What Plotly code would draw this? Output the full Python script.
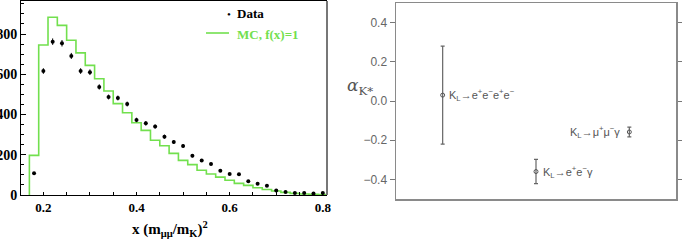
import plotly.graph_objects as go

# ---- Left panel data ----
data_x = [0.18, 0.20, 0.22, 0.24, 0.26, 0.28, 0.30, 0.32, 0.34, 0.36, 0.38, 0.40,
          0.42, 0.44, 0.46, 0.48, 0.50, 0.52, 0.54, 0.56, 0.58, 0.60, 0.62, 0.64,
          0.66, 0.68, 0.70, 0.72, 0.74, 0.76, 0.78, 0.80]
data_y = [108, 616, 762, 754, 691, 616, 610, 537, 487, 482, 452, 373,
          356, 340, 290, 263, 244, 195, 172, 154, 121, 104, 103, 68,
          56, 46, 22, 15, 10, 10, 8, 10]
data_err = [6, 14, 16, 16, 15, 14, 14, 13, 12, 12, 12, 11,
            11, 10, 10, 9, 9, 8, 7, 7, 6, 5, 5, 4,
            4, 4, 3, 3, 2, 2, 2, 2]

mc_centers = [0.18, 0.20, 0.22, 0.24, 0.26, 0.28, 0.30, 0.32, 0.34, 0.36, 0.38, 0.40,
              0.42, 0.44, 0.46, 0.48, 0.50, 0.52, 0.54, 0.56, 0.58, 0.60, 0.62, 0.64,
              0.66, 0.68, 0.70, 0.72, 0.74, 0.76, 0.78, 0.80]
mc_y = [197, 745, 883, 843, 769, 706, 644, 578, 517, 454, 409, 359,
        321, 272, 245, 207, 172, 151, 123, 104, 89, 73, 58, 48,
        36, 27, 20, 13, 8, 5, 3, 2]
bin_half = 0.01

x_ticks = [0.2, 0.4, 0.6, 0.8]
y_ticks = [0, 200, 400, 600, 800]

# ---- Right panel data ----
alpha_pos = [0.5, 1.5, 2.5]
alpha_val = [0.03, -0.36, -0.158]
alpha_err = [0.25, 0.062, 0.025]
alpha_labels = ["K<sub>L</sub>→e<sup>+</sup>e<sup>−</sup>e<sup>+</sup>e<sup>−</sup>",
                "K<sub>L</sub>→e<sup>+</sup>e<sup>−</sup>γ",
                "K<sub>L</sub>→μ<sup>+</sup>μ<sup>−</sup>γ"]
alpha_ticks = [-0.4, -0.2, 0.0, 0.2, 0.4]

W, H = 682, 243
GREEN = "#72e04e"
serif = "Liberation Serif"
sans = "Liberation Sans"

fig = go.Figure()

# MC histogram as step line
hx = [mc_centers[0] - bin_half] + [c - bin_half for c in mc_centers] + [mc_centers[-1] + bin_half]
hy = [0] + mc_y + [mc_y[-1]]
fig.add_trace(go.Scatter(x=hx, y=hy, mode="lines", line=dict(color=GREEN, width=1.6, shape="hv"),
                         xaxis="x", yaxis="y", showlegend=False, hoverinfo="skip"))
fig.add_trace(go.Scatter(x=data_x, y=data_y, mode="markers",
                         marker=dict(color="black", size=4),
                         error_y=dict(type="data", array=data_err, color="black", thickness=1, width=0),
                         xaxis="x", yaxis="y", showlegend=False))

# Right panel
fig.add_trace(go.Scatter(x=alpha_pos, y=alpha_val, mode="markers",
                         marker=dict(symbol="circle-open", color="#555555", size=4, line=dict(width=1)),
                         error_y=dict(type="data", array=alpha_err, color="#666666", thickness=1.2, width=2),
                         xaxis="x2", yaxis="y2", showlegend=False))

fig.update_layout(
    template="none",
    width=W, height=H,
    margin=dict(l=0, r=0, t=0, b=0, autoexpand=False),
    paper_bgcolor="white", plot_bgcolor="white",
    xaxis=dict(domain=[21 / W, 327 / W], range=[0.152, 0.809], automargin=False,
               tickvals=x_ticks, ticktext=["0.2", "0.4", "0.6", "0.8"],
               ticks="inside", ticklen=3, tickcolor="black",
               minor=dict(dtick=0.05, ticks="inside", ticklen=3, tickcolor="black", showgrid=False),
               showgrid=False, zeroline=False, showline=True, linecolor="black", linewidth=1,
               mirror=True,
               tickfont=dict(family=serif, size=13, color="black", weight="bold"),
               anchor="y"),
    yaxis=dict(domain=[(H - 195) / H, (H - 1) / H], range=[0, 964], automargin=False,
               tickvals=y_ticks,
               ticks="inside", ticklen=5, tickcolor="black",
               minor=dict(dtick=50, ticks="inside", ticklen=3, tickcolor="black", showgrid=False),
               showgrid=False, zeroline=False, showline=True, linecolor="black", linewidth=1,
               tickfont=dict(family=serif, size=14, color="black", weight="bold"),
               anchor="x"),
    xaxis2=dict(domain=[396 / W, 676 / W], range=[0, 3], automargin=False,
                showticklabels=False, ticks="", showgrid=False, zeroline=False,
                showline=True, linecolor="#8a8a8a", linewidth=1.5, mirror=True, anchor="y2"),
    yaxis2=dict(domain=[(H - 199) / H, (H - 3) / H], range=[-0.5, 0.5], automargin=False,
                tickvals=alpha_ticks, tickformat=".1f",
                ticks="outside", ticklen=5, tickcolor="#777777", tickwidth=1,
                showgrid=False, zeroline=False,
                showline=True, linecolor="#8a8a8a", linewidth=1.5, mirror="allticks",
                tickfont=dict(family=sans, size=12, color="#666666"),
                anchor="x2"),
)

# right border of left panel (gray, thicker)
fig.add_shape(type="line", xref="x domain", yref="y domain", x0=1, x1=1, y0=0, y1=1,
              line=dict(color="#777777", width=2))

# legend of left panel
fig.add_annotation(xref="paper", yref="paper", x=229 / W, y=(H - 14) / H, text="•",
                   showarrow=False, font=dict(family=serif, size=11, color="black"),
                   xanchor="center", yanchor="middle")
fig.add_annotation(xref="paper", yref="paper", x=235 / W, y=(H - 14) / H, text="Data",
                   showarrow=False, font=dict(family=serif, size=13, color="black", weight="bold"),
                   xanchor="left", yanchor="middle")
fig.add_shape(type="line", xref="paper", yref="paper", x0=206 / W, x1=229 / W,
              y0=(H - 33) / H, y1=(H - 33) / H, line=dict(color=GREEN, width=1.6))
fig.add_annotation(xref="paper", yref="paper", x=235 / W, y=(H - 34) / H, text="MC, f(x)=1",
                   showarrow=False, font=dict(family=serif, size=13, color=GREEN, weight="bold"),
                   xanchor="left", yanchor="middle")

# x title of left panel
fig.add_annotation(xref="paper", yref="paper", x=170 / W, y=(H - 229) / H,
                   text="x (m<sub>μμ</sub>/m<sub>K</sub>)<sup>2</sup>",
                   showarrow=False, font=dict(family=serif, size=15, color="black", weight="bold"),
                   xanchor="center", yanchor="middle")

# right panel labels
fig.add_annotation(xref="x2", yref="y2", x=alpha_pos[0], y=alpha_val[0], text=alpha_labels[0],
                   showarrow=False, xanchor="left", yanchor="middle", xshift=4,
                   font=dict(family=sans, size=11, color="#555555"))
fig.add_annotation(xref="x2", yref="y2", x=alpha_pos[1], y=alpha_val[1], text=alpha_labels[1],
                   showarrow=False, xanchor="left", yanchor="middle", xshift=5,
                   font=dict(family=sans, size=11, color="#555555"))
fig.add_annotation(xref="x2", yref="y2", x=alpha_pos[2], y=alpha_val[2], text=alpha_labels[2],
                   showarrow=False, xanchor="right", yanchor="middle", xshift=-7,
                   font=dict(family=sans, size=11, color="#555555"))

# right y title
fig.add_annotation(xref="paper", yref="paper", x=360 / W, y=(H - 86) / H,
                   text="<i>α</i><sub>K*</sub>",
                   showarrow=False, xanchor="center", yanchor="middle",
                   font=dict(family="DejaVu Serif", size=17, color="#555555"))

fig.write_html("out.html",
               config={"displayModeBar": False, "staticPlot": True},
               post_script="document.body.style.margin='0px';document.body.style.overflow='hidden';")
